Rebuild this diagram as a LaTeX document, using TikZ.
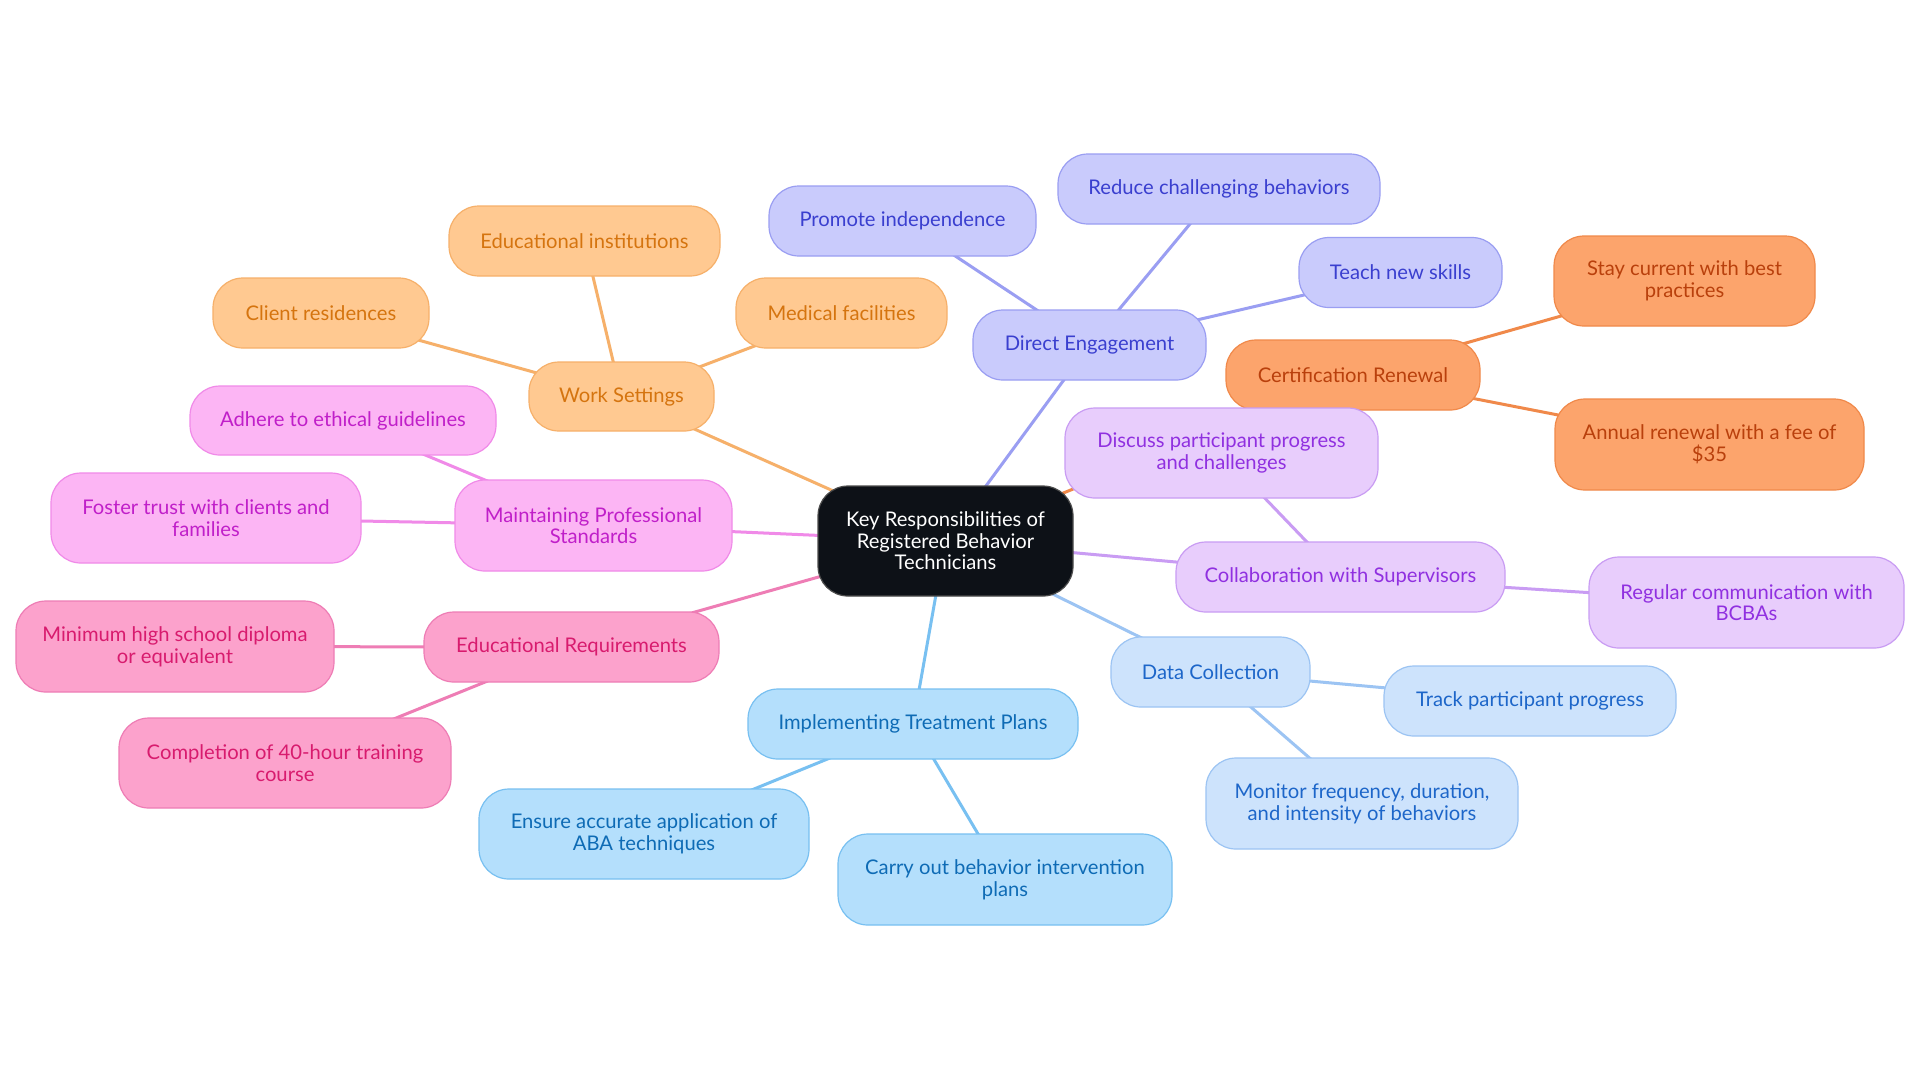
\documentclass[tikz,border=0pt]{standalone}
\usepackage{fontspec}
\setmainfont{Lato}
\usetikzlibrary{backgrounds}
\definecolor{orF}{HTML}{FFC991}\definecolor{orD}{HTML}{F6B06A}\definecolor{orT}{HTML}{D5740F}
\definecolor{viF}{HTML}{C9CBFC}\definecolor{viD}{HTML}{9A9EF2}\definecolor{viT}{HTML}{3A3FCF}
\definecolor{ceF}{HTML}{FCA46C}\definecolor{ceD}{HTML}{F0894A}\definecolor{ceT}{HTML}{B9400C}
\definecolor{puF}{HTML}{E8CDFC}\definecolor{puD}{HTML}{C99CF3}\definecolor{puT}{HTML}{9030E0}
\definecolor{lbF}{HTML}{CDE3FC}\definecolor{lbD}{HTML}{9CC4F3}\definecolor{lbT}{HTML}{1D66C9}
\definecolor{skF}{HTML}{B4DFFC}\definecolor{skD}{HTML}{78C0F1}\definecolor{skT}{HTML}{0E6BB5}
\definecolor{piF}{HTML}{FCB5F4}\definecolor{piD}{HTML}{F08AE8}\definecolor{piT}{HTML}{C01FC9}
\definecolor{roF}{HTML}{FCA2CC}\definecolor{roD}{HTML}{EE7DB5}\definecolor{roT}{HTML}{D81B6E}
\definecolor{ctF}{HTML}{0D1117}
\tikzset{
  box/.style={rectangle, rounded corners=15pt, inner sep=0pt, align=center, line width=0.6pt,
     font=\fontsize{10.1}{10.8}\selectfont},
  sz/.style 2 args={minimum width=#1*0.5pt, minimum height=#2*0.5pt},
  orN/.style={box, fill=orF, draw=orD, text=orT},
  viN/.style={box, fill=viF, draw=viD, text=viT},
  ceN/.style={box, fill=ceF, draw=ceD, text=ceT},
  puN/.style={box, fill=puF, draw=puD, text=puT},
  lbN/.style={box, fill=lbF, draw=lbD, text=lbT},
  skN/.style={box, fill=skF, draw=skD, text=skT},
  piN/.style={box, fill=piF, draw=piD, text=piT},
  roN/.style={box, fill=roF, draw=roD, text=roT},
  ctN/.style={box, fill=ctF, draw=gray!60!black, text=white},
  conn/.style={line width=1.5pt, draw=#1},
}
\begin{document}
\begin{tikzpicture}[x=0.5pt,y=-0.5pt]
\useasboundingbox (0,0) rectangle (1920,1083);
% center
\node[ctN, sz={255}{110}] (c) at (945.5,541) {Key Responsibilities of\\Registered Behavior\\Technicians};
% work settings
\node[orN, sz={185}{69}] (ws) at (621.5,396.5) {Work Settings};
\node[orN, sz={271}{70}] (edi) at (584.5,241) {Educational institutions};
\node[orN, sz={216}{70}] (cr) at (321,313) {Client residences};
\node[orN, sz={211}{70}] (mf) at (841.5,313) {Medical facilities};
% direct engagement
\node[viN, sz={233}{70}] (de) at (1089.5,345) {Direct Engagement};
\node[viN, sz={267}{70}] (pi) at (902.5,221) {Promote independence};
\node[viN, sz={322}{70}] (rcb) at (1219,189) {Reduce challenging behaviors};
\node[viN, sz={203}{70}] (tns) at (1400.5,272.5) {Teach new skills};
% certification
\node[ceN, sz={254}{70}] (cert) at (1353,375) {Certification Renewal};
\node[ceN, sz={261}{90}] (stay) at (1684.5,281) {Stay current with best\\practices};
\node[ceN, sz={309}{91}] (ann) at (1709.5,444.5) {Annual renewal with a fee of\\\$35};
% collaboration
\node[puN, sz={329}{70}] (col) at (1340.5,577) {Collaboration with Supervisors};
\node[puN, sz={313}{90}] (dis) at (1221.5,453) {Discuss participant progress\\and challenges};
\node[puN, sz={315}{91}] (reg) at (1746.5,602.5) {Regular communication with\\BCBAs};
% data collection
\node[lbN, sz={199}{70}] (dc) at (1210.5,672) {Data Collection};
\node[lbN, sz={292}{70}] (trk) at (1530,701) {Track participant progress};
\node[lbN, sz={312}{91}] (mon) at (1362,803.5) {Monitor frequency, duration,\\and intensity of behaviors};
% implementing
\node[skN, sz={330}{70}] (imp) at (913,724) {Implementing Treatment Plans};
\node[skN, sz={330}{90}] (ens) at (644,834) {Ensure accurate application of\\ABA techniques};
\node[skN, sz={334}{91}] (car) at (1005,879.5) {Carry out behavior intervention\\plans};
% maintaining
\node[piN, sz={277}{91}] (mps) at (593.5,525.5) {Maintaining Professional\\Standards};
\node[piN, sz={306}{69}] (adh) at (343,420.5) {Adhere to ethical guidelines};
\node[piN, sz={310}{90}] (fos) at (206,518) {Foster trust with clients and\\families};
% educational requirements
\node[roN, sz={295}{70}] (er) at (571.5,647) {Educational Requirements};
\node[roN, sz={318}{91}] (min) at (175,646.5) {Minimum high school diploma\\or equivalent};
\node[roN, sz={332}{90}] (cmp) at (285,763) {Completion of 40-hour training\\course};
% connectors
\begin{scope}[on background layer]
\fill[white] (0,0) rectangle (1920,1083);
\draw[conn=orD] (c.center) -- (ws.center);
\draw[conn=orD] (ws.center) -- (edi.center);
\draw[conn=orD] (ws.center) -- (cr.center);
\draw[conn=orD] (ws.center) -- (mf.center);
\draw[conn=viD] (c.center) -- (de.center);
\draw[conn=viD] (de.center) -- (pi.center);
\draw[conn=viD] (de.center) -- (rcb.center);
\draw[conn=viD] (de.center) -- (tns.center);
\draw[conn=ceD] (c.center) -- (cert.center);
\draw[conn=ceD] (cert.center) -- (stay.center);
\draw[conn=ceD] (cert.center) -- (ann.center);
\draw[conn=puD] (c.center) -- (col.center);
\draw[conn=puD] (col.center) -- (dis.center);
\draw[conn=puD] (col.center) -- (reg.center);
\draw[conn=lbD] (c.center) -- (dc.center);
\draw[conn=lbD] (dc.center) -- (trk.center);
\draw[conn=lbD] (dc.center) -- (mon.center);
\draw[conn=skD] (c.center) -- (imp.center);
\draw[conn=skD] (imp.center) -- (ens.center);
\draw[conn=skD] (imp.center) -- (car.center);
\draw[conn=piD] (c.center) -- (mps.center);
\draw[conn=piD] (mps.center) -- (adh.center);
\draw[conn=piD] (mps.center) -- (fos.center);
\draw[conn=roD] (c.center) -- (er.center);
\draw[conn=roD] (er.center) -- (min.center);
\draw[conn=roD] (er.center) -- (cmp.center);
\end{scope}
\end{tikzpicture}
\end{document}
